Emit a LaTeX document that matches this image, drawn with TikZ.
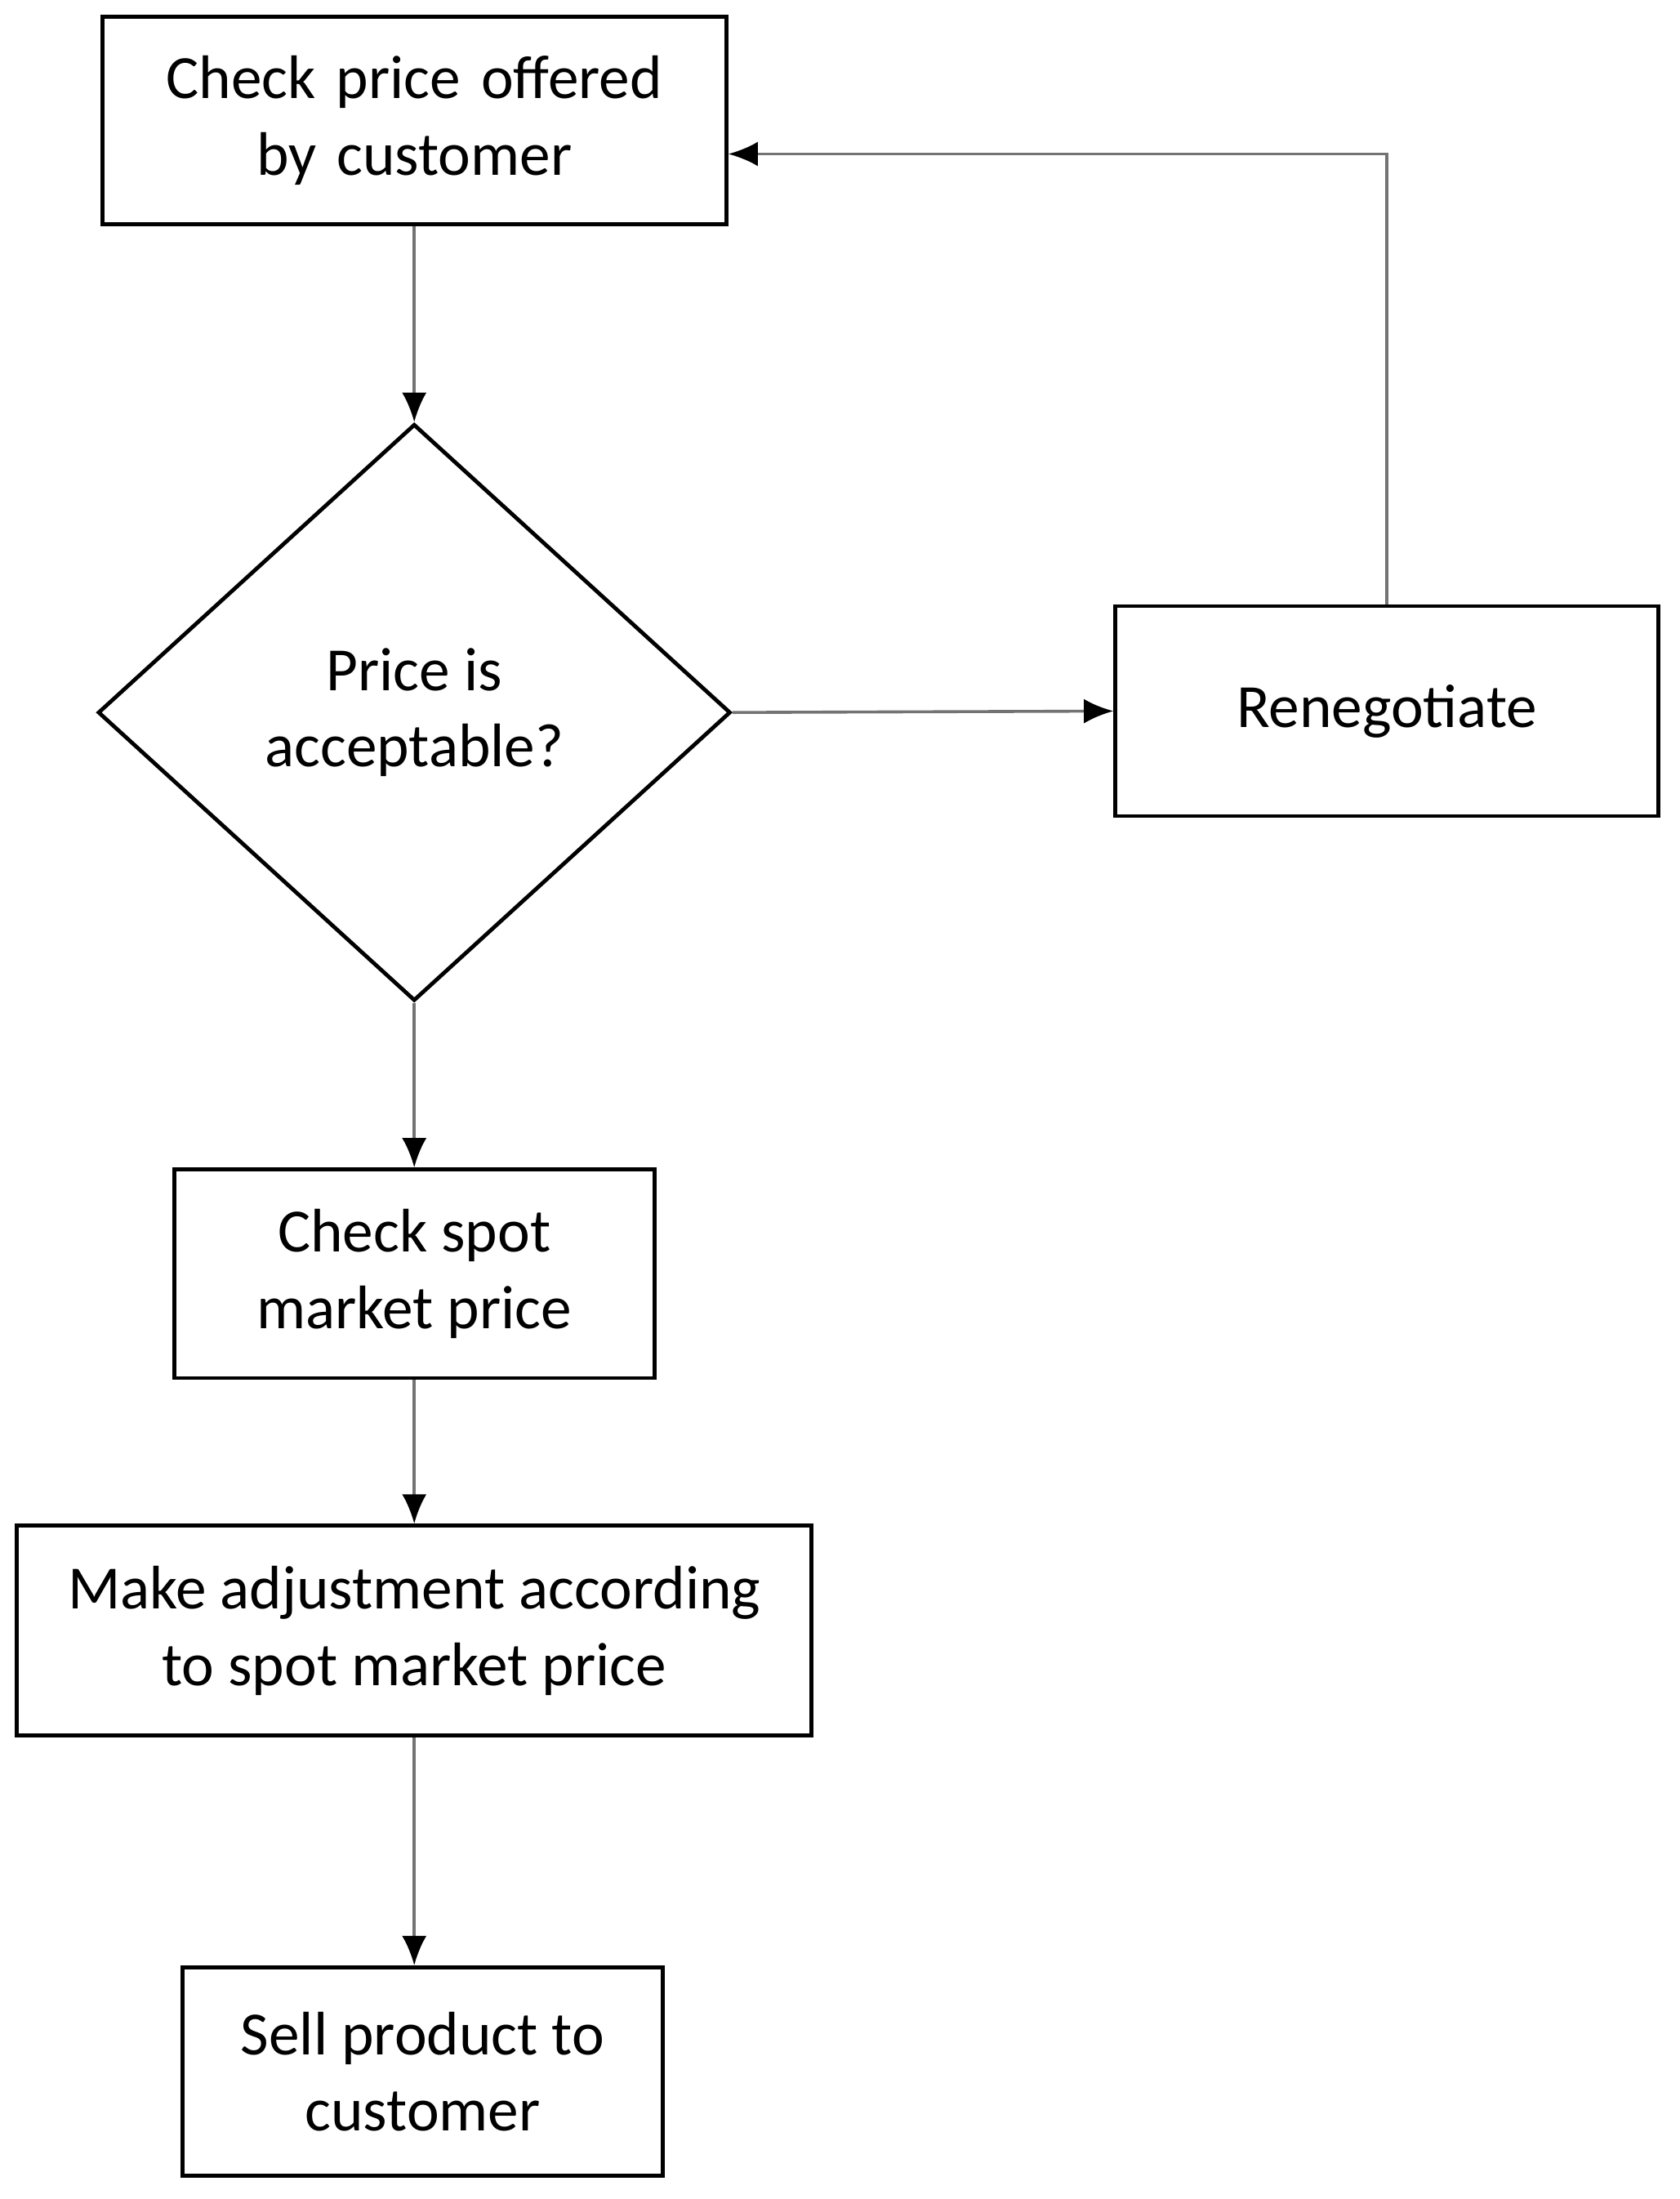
\documentclass[tikz,border=0pt]{standalone}
\usepackage{fontspec}
\setmainfont{Carlito}
\usetikzlibrary{shapes.geometric,arrows.meta}
\begin{document}
\begin{tikzpicture}[x=0.02cm,y=-0.02cm,
  box/.style={draw,line width=1.6pt,inner sep=0pt,align=center,font=\fontsize{25}{31}\selectfont},
  conn/.style={draw=black!55,line width=1.2pt,-{Latex[length=12pt,width=10pt,color=black]}}]
\useasboundingbox (0,0) rectangle (1200,1571);
\node[box,minimum width=446\pgfmathresult,text width=420*0.02cm,minimum width=446*0.02cm,minimum height=148*0.02cm] (a) at (296,86) {Check price offered\\by customer};
\node[box,diamond,minimum width=452*0.02cm,minimum height=412*0.02cm,aspect=1.1] (d) at (296,509) {Price is\\acceptable?};
\node[box,minimum width=388*0.02cm,minimum height=150*0.02cm] (r) at (991,508) {Renegotiate};
\node[box,minimum width=343*0.02cm,minimum height=149*0.02cm] (c) at (296,910) {Check spot\\market price};
\node[box,minimum width=568*0.02cm,minimum height=150*0.02cm] (m) at (296,1165) {Make adjustment according\\to spot market price};
\node[box,minimum width=343*0.02cm,minimum height=149*0.02cm] (s) at (302,1480) {Sell product to\\customer};
\draw[conn] (a.south) -- (d.north);
\draw[conn] (d.east) -- (r.west);
\draw[conn] (r.north) |- (a.east |- 0,110);
\draw[conn] (d.south) -- (c.north);
\draw[conn] (c.south) -- (m.north);
\draw[conn] (m.south) -- (m.south |- s.north);
\end{tikzpicture}
\end{document}
